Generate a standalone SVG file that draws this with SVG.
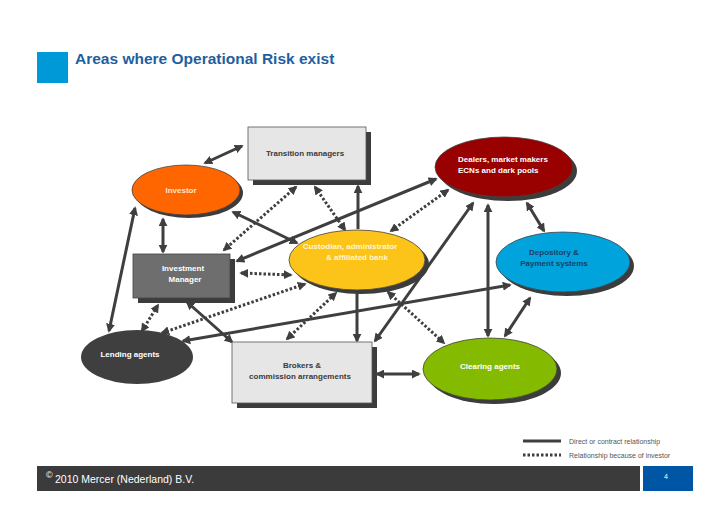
<svg xmlns="http://www.w3.org/2000/svg" width="728" height="515" viewBox="0 0 728 515">
<style>
text{font-family:"Liberation Sans",Arial,sans-serif;font-weight:bold;font-size:8px}
.sh{fill:#3c3c3c}
.c{stroke:#3f3f3f;stroke-width:3;fill:none;marker-start:url(#a);marker-end:url(#a)}
.d{stroke:#3f3f3f;stroke-width:3;fill:none;stroke-dasharray:2.5 2;marker-start:url(#a);marker-end:url(#a)}
.one{marker-start:none}
.w{fill:#fff}
.k{fill:#3a3a3a}
</style>
<defs>
<marker id="a" viewBox="0 0 10 10" refX="8" refY="5" markerWidth="3" markerHeight="3" orient="auto-start-reverse" markerUnits="strokeWidth">
<path d="M0,0 L10,5 L0,10 Z" fill="#3f3f3f"/>
</marker>
</defs>
<rect width="728" height="515" fill="#fff"/>
<rect x="37" y="52" width="31" height="31" fill="#0099d8"/>
<text x="75" y="64" style="font-size:15.5px;fill:#1f5f9f">Areas where Operational Risk exist</text>

<g id="connectors">
<line class="c" x1="205" y1="163" x2="242" y2="146"/>
<line class="c" x1="163" y1="219" x2="163" y2="252"/>
<line class="c" x1="233" y1="212" x2="297" y2="243"/>
<line class="c one" x1="358" y1="229" x2="358" y2="186"/>
<line class="c" x1="237" y1="261" x2="436" y2="179"/>
<line class="c" x1="109" y1="331" x2="135" y2="208"/>
<line class="c" x1="187" y1="302" x2="232" y2="342"/>
<line class="c one" x1="357" y1="291" x2="357" y2="341"/>
<line class="c" x1="375" y1="341" x2="473" y2="203"/>
<line class="c" x1="488" y1="205" x2="488" y2="336"/>
<line class="c" x1="527" y1="203" x2="544" y2="231"/>
<line class="c" x1="530" y1="298" x2="505" y2="336"/>
<line class="c" x1="183" y1="341" x2="510" y2="285"/>
<line class="c" x1="377" y1="374" x2="419" y2="374"/>
<line class="d" x1="296" y1="187" x2="224" y2="250"/>
<line class="d" x1="315" y1="187" x2="345" y2="230"/>
<line class="d" x1="448" y1="190" x2="391" y2="231"/>
<line class="d" x1="241" y1="273" x2="291" y2="275"/>
<line class="d" x1="142" y1="331" x2="158" y2="305"/>
<line class="d" x1="162" y1="333" x2="305" y2="284"/>
<line class="d" x1="287" y1="339" x2="336" y2="293"/>
<line class="d" x1="388" y1="292" x2="444" y2="343"/>
</g>

<g id="transition">
<rect class="sh" x="253" y="132" width="118" height="53"/>
<rect x="248" y="127" width="118" height="53" fill="#e6e6e6" stroke="#555" stroke-width="0.8"/>
<text class="k" x="305" y="156" text-anchor="middle">Transition managers</text>
</g>
<g id="investor">
<ellipse class="sh" cx="189" cy="193" rx="54" ry="25"/>
<ellipse cx="186" cy="190" rx="54" ry="25" fill="#ff6600" stroke="#444" stroke-width="0.8"/>
<text x="181" y="193" text-anchor="middle" fill="#ffe6cc">Investor</text>
</g>
<g id="im">
<rect class="sh" x="138" y="259" width="97" height="44"/>
<rect x="133" y="254" width="97" height="44" fill="#6e6e6e" stroke="#444" stroke-width="0.8"/>
<text class="w" x="183" y="271" text-anchor="middle">Investment</text>
<text class="w" x="185" y="282" text-anchor="middle">Manager</text>
</g>
<g id="custodian">
<ellipse class="sh" cx="361" cy="264" rx="68" ry="30"/>
<ellipse cx="357" cy="260" rx="68" ry="30" fill="#fcc418" stroke="#444" stroke-width="0.8"/>
<text x="350" y="249" text-anchor="middle" fill="#fff6d0">Custodian, administrator</text>
<text x="357" y="260" text-anchor="middle" fill="#fff6d0">&amp; affiliated bank</text>
</g>
<g id="dealers">
<ellipse class="sh" cx="508" cy="171" rx="69" ry="30"/>
<ellipse cx="504" cy="167" rx="69" ry="30" fill="#990000" stroke="#444" stroke-width="0.8"/>
<text class="w" x="458" y="162">Dealers, market makers</text>
<text class="w" x="458" y="173">ECNs and dark pools</text>
</g>
<g id="depository">
<ellipse class="sh" cx="567" cy="266" rx="67" ry="30"/>
<ellipse cx="563" cy="262" rx="67" ry="30" fill="#00a3dc" stroke="#444" stroke-width="0.8"/>
<text x="554" y="255" text-anchor="middle" fill="#1d3f66">Depository &amp;</text>
<text x="554" y="266" text-anchor="middle" fill="#1d3f66">Payment systems</text>
</g>
<g id="clearing">
<ellipse class="sh" cx="494" cy="373" rx="67" ry="31"/>
<ellipse cx="490" cy="369" rx="67" ry="31" fill="#84bb00" stroke="#444" stroke-width="0.8"/>
<text class="w" x="490" y="369" text-anchor="middle">Clearing agents</text>
</g>
<g id="brokers">
<rect class="sh" x="237" y="347" width="140" height="61"/>
<rect x="232" y="342" width="140" height="61" fill="#e6e6e6" stroke="#555" stroke-width="0.8"/>
<text class="k" x="302" y="368" text-anchor="middle">Brokers &amp;</text>
<text class="k" x="300" y="379" text-anchor="middle">commission arrangements</text>
</g>
<g id="lending">
<ellipse cx="137" cy="357" rx="56" ry="27" fill="#3f3f3f"/>
<text class="w" x="130" y="357" text-anchor="middle">Lending agents</text>
</g>

<g id="legend">
<line x1="523" y1="441" x2="561" y2="441" stroke="#3f3f3f" stroke-width="3"/>
<line x1="523" y1="455" x2="561" y2="455" stroke="#3f3f3f" stroke-width="3" stroke-dasharray="2.5 2"/>
<text x="569" y="444" style="font-weight:normal;font-size:7px" fill="#555">Direct or contract relationship</text>
<text x="569" y="458" style="font-weight:normal;font-size:7px" fill="#555">Relationship because of investor</text>
</g>
<rect x="37" y="466" width="603" height="25" fill="#3b3b3b"/>
<rect x="643" y="466" width="50" height="25" fill="#0055a4"/>
<text x="46" y="478" style="font-weight:normal;font-size:9px" fill="#fff">©</text>
<text x="55" y="483" style="font-weight:normal;font-size:10.5px" fill="#fff">2010 Mercer (Nederland) B.V.</text>
<text x="666" y="479" style="font-weight:normal;font-size:7px" fill="#fff" text-anchor="middle">4</text>
</svg>
